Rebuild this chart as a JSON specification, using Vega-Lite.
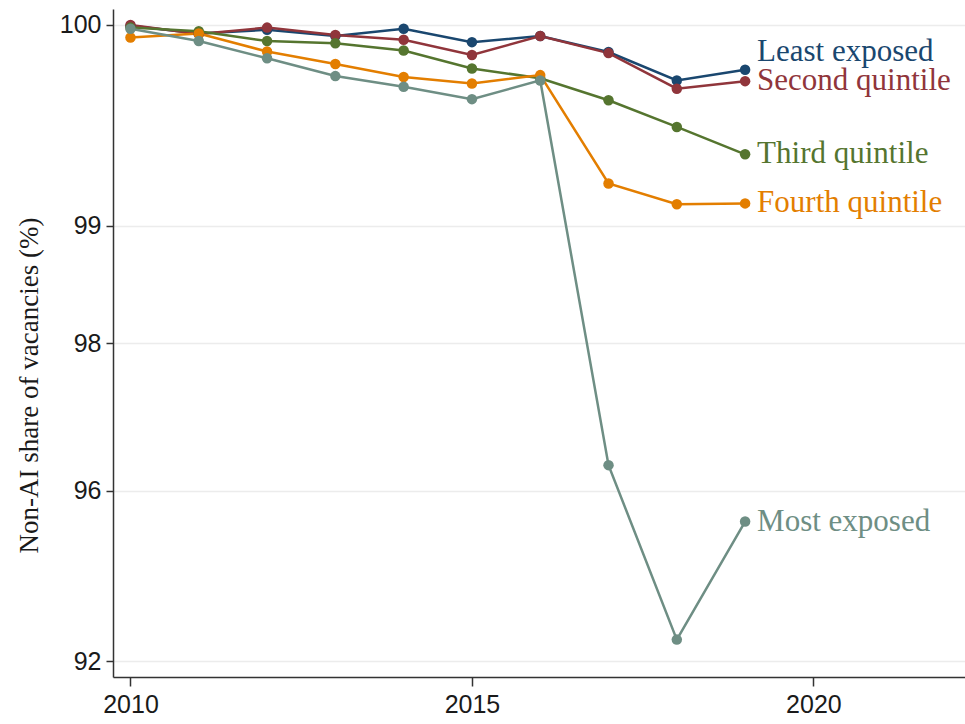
{
  "$schema": "https://vega.github.io/schema/vega-lite/v6.json",
  "width": 852,
  "height": 668,
  "autosize": {"type": "none"},
  "padding": {"left": 113, "top": 9, "right": 0, "bottom": 47},
  "background": "white",
  "config": {"view": {"stroke": null}},
  "data": {
    "values": [
      {"year": 2010, "group": "Least exposed", "ai_share": 0.003},
      {"year": 2011, "group": "Least exposed", "ai_share": 0.030},
      {"year": 2012, "group": "Least exposed", "ai_share": 0.017},
      {"year": 2013, "group": "Least exposed", "ai_share": 0.039},
      {"year": 2014, "group": "Least exposed", "ai_share": 0.013},
      {"year": 2015, "group": "Least exposed", "ai_share": 0.061},
      {"year": 2016, "group": "Least exposed", "ai_share": 0.039},
      {"year": 2017, "group": "Least exposed", "ai_share": 0.098},
      {"year": 2018, "group": "Least exposed", "ai_share": 0.211},
      {"year": 2019, "group": "Least exposed", "ai_share": 0.167},
      {"year": 2010, "group": "Second quintile", "ai_share": 0.0},
      {"year": 2011, "group": "Second quintile", "ai_share": 0.032},
      {"year": 2012, "group": "Second quintile", "ai_share": 0.009},
      {"year": 2013, "group": "Second quintile", "ai_share": 0.035},
      {"year": 2014, "group": "Second quintile", "ai_share": 0.052},
      {"year": 2015, "group": "Second quintile", "ai_share": 0.109},
      {"year": 2016, "group": "Second quintile", "ai_share": 0.039},
      {"year": 2017, "group": "Second quintile", "ai_share": 0.102},
      {"year": 2018, "group": "Second quintile", "ai_share": 0.246},
      {"year": 2019, "group": "Second quintile", "ai_share": 0.214},
      {"year": 2010, "group": "Third quintile", "ai_share": 0.009},
      {"year": 2011, "group": "Third quintile", "ai_share": 0.022},
      {"year": 2012, "group": "Third quintile", "ai_share": 0.057},
      {"year": 2013, "group": "Third quintile", "ai_share": 0.065},
      {"year": 2014, "group": "Third quintile", "ai_share": 0.092},
      {"year": 2015, "group": "Third quintile", "ai_share": 0.162},
      {"year": 2016, "group": "Third quintile", "ai_share": 0.202},
      {"year": 2017, "group": "Third quintile", "ai_share": 0.297},
      {"year": 2018, "group": "Third quintile", "ai_share": 0.422},
      {"year": 2019, "group": "Third quintile", "ai_share": 0.563},
      {"year": 2010, "group": "Fourth quintile", "ai_share": 0.044},
      {"year": 2011, "group": "Fourth quintile", "ai_share": 0.030},
      {"year": 2012, "group": "Fourth quintile", "ai_share": 0.096},
      {"year": 2013, "group": "Fourth quintile", "ai_share": 0.144},
      {"year": 2014, "group": "Fourth quintile", "ai_share": 0.197},
      {"year": 2015, "group": "Fourth quintile", "ai_share": 0.224},
      {"year": 2016, "group": "Fourth quintile", "ai_share": 0.189},
      {"year": 2017, "group": "Fourth quintile", "ai_share": 0.729},
      {"year": 2018, "group": "Fourth quintile", "ai_share": 0.857},
      {"year": 2019, "group": "Fourth quintile", "ai_share": 0.852},
      {"year": 2010, "group": "Most exposed", "ai_share": 0.013},
      {"year": 2011, "group": "Most exposed", "ai_share": 0.057},
      {"year": 2012, "group": "Most exposed", "ai_share": 0.122},
      {"year": 2013, "group": "Most exposed", "ai_share": 0.193},
      {"year": 2014, "group": "Most exposed", "ai_share": 0.238},
      {"year": 2015, "group": "Most exposed", "ai_share": 0.292},
      {"year": 2016, "group": "Most exposed", "ai_share": 0.211},
      {"year": 2017, "group": "Most exposed", "ai_share": 3.574},
      {"year": 2018, "group": "Most exposed", "ai_share": 7.356},
      {"year": 2019, "group": "Most exposed", "ai_share": 4.557}
    ]
  },
  "encoding": {
    "x": {
      "field": "year", "type": "quantitative",
      "scale": {"domain": [2009.744, 2022.22], "nice": false, "zero": false},
      "axis": {
        "values": [2010, 2015, 2020], "format": "d", "title": null, "grid": false,
        "labelFont": "Liberation Sans", "labelFontSize": 25, "labelColor": "#1a1a1a",
        "labelPadding": 6, "tickSize": 9, "tickColor": "#333333", "tickWidth": 1.5,
        "domainColor": "#333333", "domainWidth": 1.5
      }
    },
    "y": {
      "field": "ai_share", "type": "quantitative",
      "scale": {"type": "symlog", "constant": 1, "domain": [-0.0568, 8.508], "nice": false, "zero": false, "reverse": true},
      "axis": {
        "values": [0, 1, 2, 4, 8], "labelExpr": "100 - datum.value",
        "title": "Non-AI share of vacancies (%)",
        "titleFont": "Liberation Serif", "titleFontSize": 27, "titleFontWeight": "normal", "titleColor": "#1a1a1a",
        "titleAngle": 270, "titleBaseline": "alphabetic", "titleAlign": "center",
        "titleX": -76, "titleY": 376,
        "grid": true, "gridColor": "#ececec", "gridWidth": 1.5,
        "labelFont": "Liberation Sans", "labelFontSize": 25, "labelColor": "#1a1a1a",
        "labelPadding": 5, "tickSize": 7, "tickColor": "#333333", "tickWidth": 1.5,
        "domainColor": "#333333", "domainWidth": 1.5
      }
    },
    "color": {
      "field": "group", "type": "nominal", "legend": null,
      "scale": {
        "domain": ["Least exposed", "Second quintile", "Third quintile", "Fourth quintile", "Most exposed"],
        "range": ["#1a476f", "#90353b", "#55752f", "#e37e00", "#6e8e84"]
      }
    }
  },
  "layer": [
    {
      "mark": {"type": "line", "strokeWidth": 2.5, "point": {"filled": true, "size": 110}}
    },
    {
      "transform": [{"filter": "datum.year == 2019 && datum.group != 'Least exposed'"}],
      "mark": {"type": "text", "align": "left", "baseline": "middle", "dx": 12, "font": "Liberation Serif", "fontSize": 31},
      "encoding": {"text": {"field": "group"}}
    },
    {
      "transform": [{"filter": "datum.year == 2019 && datum.group == 'Least exposed'"}],
      "mark": {"type": "text", "align": "left", "baseline": "middle", "dx": 12, "dy": -18, "font": "Liberation Serif", "fontSize": 31},
      "encoding": {"text": {"field": "group"}}
    }
  ]
}
